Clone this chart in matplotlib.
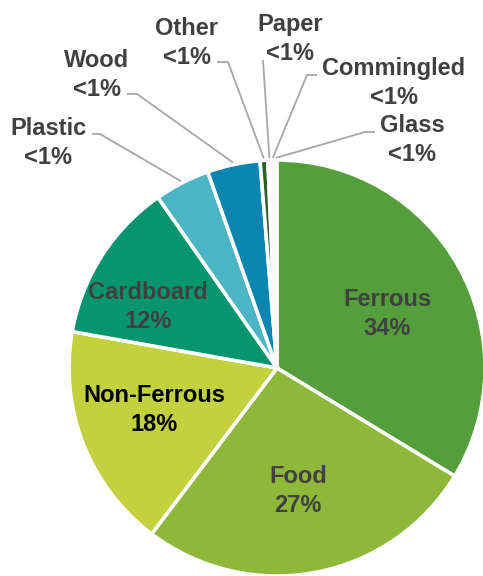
import matplotlib
matplotlib.use("Agg")
import matplotlib.pyplot as plt
import numpy as np

categories = ["Ferrous", "Food", "Non-Ferrous", "Cardboard", "Plastic", "Wood",
              "Other", "Paper", "Commingled", "Glass"]
values = [33.7, 26.6, 17.5, 12.5, 4.3, 4.1, 0.6, 0.25, 0.25, 0.2]
pct_labels = ["34%", "27%", "18%", "12%", "<1%", "<1%", "<1%", "<1%", "<1%", "<1%"]
colors = ["#559E3C", "#8DB83A", "#C3D13F", "#079570", "#4BB5C5", "#0C85B0",
          "#2E5F25", "#6E9E3A", "#3C7A3C", "#5BA95B"]

W, H = 483, 576
fig = plt.figure(figsize=(W / 100, H / 100), dpi=100)
ax = fig.add_axes([0, 0, 1, 1])

cx, cy, R = 277, H - 368, 208
wedges, _ = ax.pie(values, colors=colors, startangle=90, counterclock=False,
                   center=(cx, cy), radius=R, frame=True,
                   wedgeprops=dict(edgecolor="white", linewidth=2.6))
ax.set_xlim(0, W)
ax.set_ylim(0, H)
ax.set_aspect("equal")
ax.axis("off")

FS = 17
FONT = ["Liberation Sans", "DejaVu Sans"]
TXT = "#404040"
LS = 1.34
DY = 2

def Y(y):
    return H - y

# inner labels (layout positions in pixel coords)
inner_pos = {"Ferrous": (387, 312), "Food": (298, 489),
             "Non-Ferrous": (154, 408), "Cardboard": (148, 305)}
for i, name in enumerate(categories):
    if name in inner_pos:
        x, y = inner_pos[name]
        col = "black" if name == "Non-Ferrous" else TXT
        ax.text(x, Y(y + DY), f"{name}\n{pct_labels[i]}", ha="center", va="center",
                fontsize=FS, fontweight="bold", color=col, family=FONT,
                linespacing=LS)

# outer labels with leader lines: label center, line start (near label), elbow
outer = {
    "Plastic":    ((48, 141), (92, 134), (100, 134)),
    "Wood":       ((97, 73), (127, 94), (137, 94)),
    "Other":      ((187, 41), (217, 62), (228, 62)),
    "Paper":      ((290, 37), (263, 60), (263, 60)),
    "Commingled": ((394, 81), (317, 75), (307, 75)),
    "Glass":      ((412, 138), (375, 132), (365, 132)),
}
for i, name in enumerate(categories):
    if name not in outer:
        continue
    (lx, ly), (sx, sy), (ex, ey) = outer[name]
    w = wedges[i]
    mid = np.deg2rad((w.theta1 + w.theta2) / 2)
    px, py = cx + (R + 2) * np.cos(mid), cy + (R + 2) * np.sin(mid)
    ax.plot([sx, ex, px], [Y(sy), Y(ey), py], color="#A6A6A6", lw=1.3,
            solid_capstyle="butt", zorder=0)
    ax.text(lx, Y(ly + DY), f"{name}\n{pct_labels[i]}", ha="center", va="center",
            fontsize=FS, fontweight="bold", color=TXT, family=FONT,
            linespacing=LS)

fig.savefig("out.png", dpi=100)
